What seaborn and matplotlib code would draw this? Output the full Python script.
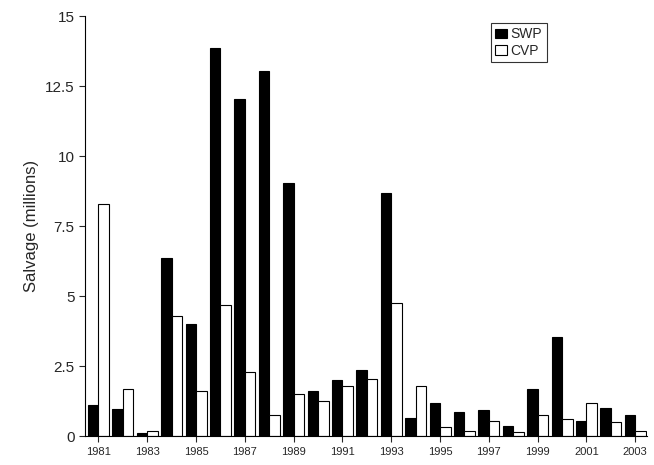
import numpy as np
import pandas as pd
import seaborn as sns
import matplotlib.pyplot as plt

years = list(range(1981, 2004))
swp = [1.1, 0.97, 0.12, 6.35, 4.0, 13.85, 12.05, 13.05, 9.05, 1.6, 2.0, 2.35, 8.7,
       0.65, 1.2, 0.85, 0.92, 0.35, 1.7, 3.55, 0.55, 1.0, 0.75]
cvp = [8.3, 1.7, 0.2, 4.3, 1.6, 4.7, 2.3, 0.75, 1.5, 1.25, 1.8, 2.05, 4.75,
       1.8, 0.32, 0.18, 0.55, 0.15, 0.75, 0.6, 1.2, 0.5, 0.17]

df = pd.DataFrame({'year': years * 2, 'salvage': swp + cvp,
                   'project': ['SWP'] * len(years) + ['CVP'] * len(years)})

sns.set_style('white')
plt.rcParams['font.family'] = ['Liberation Sans', 'DejaVu Sans']

fig, ax = plt.subplots(figsize=(6.54, 4.65), dpi=100)
sns.barplot(data=df, x='year', y='salvage', hue='project', palette=['black', 'white'],
            edgecolor='black', linewidth=0.8, width=0.86, ax=ax, saturation=1)

ax.set_ylim(0, 15)
ax.set_yticks([0, 2.5, 5, 7.5, 10, 12.5, 15])
ax.set_yticklabels(['0', '2.5', '5', '7.5', '10', '12.5', '15'], fontsize=11)
ax.set_xticks(range(0, len(years), 2))
ax.set_xticklabels([str(y) for y in years[::2]], fontsize=8)
ax.set_xlim(-0.55, len(years) - 0.5)
ax.set_xlabel('')
ax.set_ylabel('Salvage (millions)', fontsize=12)
ax.tick_params(axis='both', direction='out', length=4, left=True, bottom=True)
for s in ['top', 'right']:
    ax.spines[s].set_visible(False)
for s in ['left', 'bottom']:
    ax.spines[s].set_color('black')

leg = ax.legend(loc='upper left', bbox_to_anchor=(0.71, 1.0), fontsize=10,
                frameon=True, fancybox=False, edgecolor='black',
                handlelength=0.8, handletextpad=0.3, borderpad=0.3, labelspacing=0.2)
leg.get_frame().set_linewidth(0.8)

plt.subplots_adjust(left=0.13, right=0.99, top=0.965, bottom=0.062)
fig.savefig('out.png', dpi=100)
